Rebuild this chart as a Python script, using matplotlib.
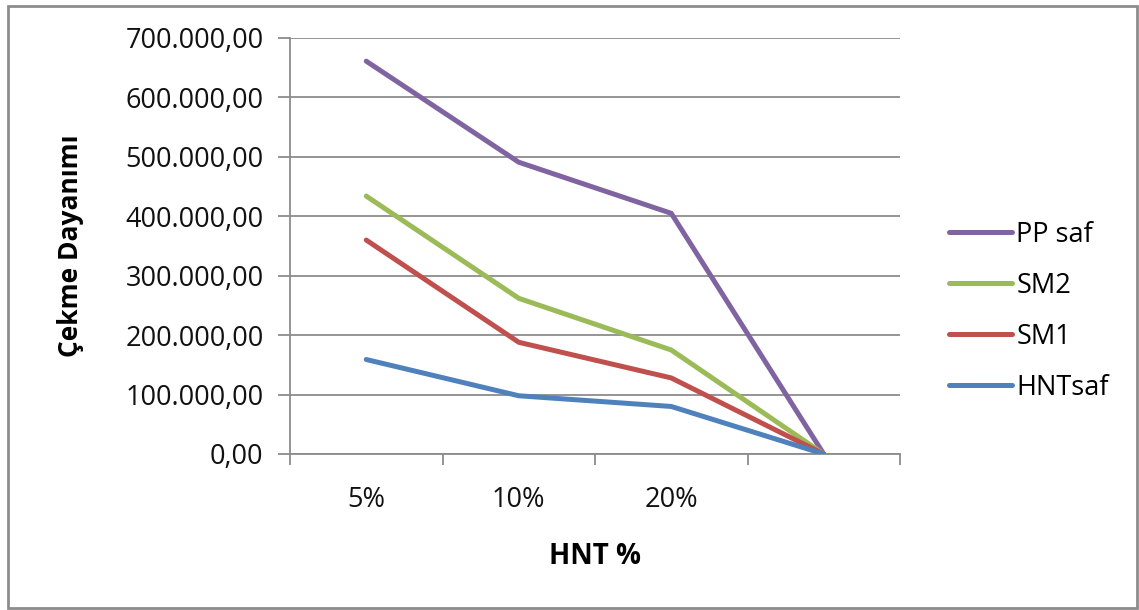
import numpy as np
import matplotlib
matplotlib.use("Agg")
import matplotlib.pyplot as plt
from matplotlib.patches import Rectangle
from matplotlib.ticker import FuncFormatter, FixedLocator

plt.rcParams['font.family'] = ['Open Sans', 'DejaVu Sans']

# HNT loading categories (last slot has no label)
categories = ["5%", "10%", "20%", ""]

# tensile strength per sample series
pp_saf  = [661000, 491000, 405000, 0]
sm2     = [434000, 262000, 175000, 0]
sm1     = [360000, 188000, 128000, 0]
hnt_saf = [159000,  98000,  80000, 0]

series_names  = ["PP saf", "SM2", "SM1", "HNTsaf"]
series_colors = ["#8064A2", "#9BBB59", "#C0504D", "#4F81BD"]

grid_col = "#8c8c8c"

def tr_format(v, pos):
    # turkish style: dot thousands separator, comma decimal
    s = "{:,.2f}".format(v)
    return s.replace(",", "X").replace(".", ",").replace("X", ".")

fig = plt.figure(figsize=(11.39, 6.10), dpi=100)
ax = fig.add_axes([290/1139, 156/610, 610/1139, 416/610])

x = np.arange(len(categories))
for name, vals, col in zip(series_names, [pp_saf, sm2, sm1, hnt_saf], series_colors):
    ax.plot(x, vals, color=col, lw=3.6, solid_capstyle='round',
            solid_joinstyle='miter', label=name, zorder=3)

ax.set_xlim(-0.5, len(categories) - 0.5)
ax.set_ylim(0, 700000)
ax.set_yticks(np.arange(0, 700001, 100000))
ax.yaxis.set_major_formatter(FuncFormatter(tr_format))
ax.grid(axis='y', color=grid_col, lw=1.3, zorder=0)

ax.set_xticks(x)
ax.set_xticklabels(categories)
ax.xaxis.set_minor_locator(FixedLocator(np.arange(-0.5, len(categories), 1.0)))
ax.tick_params(axis='x', which='major', length=0, pad=23, labelsize=19.5, colors='#111111')
ax.tick_params(axis='x', which='minor', length=8, width=1.3, color=grid_col)
ax.tick_params(axis='y', length=9, width=1.3, color=grid_col, pad=10,
               labelsize=19.5, labelcolor='#111111')

for side in ['top', 'right']:
    ax.spines[side].set_visible(False)
for side in ['left', 'bottom']:
    ax.spines[side].set_color(grid_col)
    ax.spines[side].set_linewidth(1.3)

ax.set_xlabel("HNT %", fontsize=20, fontweight='bold', labelpad=20)
ax.set_ylabel("Çekme Dayanımı", fontsize=19, fontweight='bold', labelpad=30)

leg = ax.legend(loc='center left', bbox_to_anchor=(1.04, 0.343), frameon=False,
                fontsize=19.5, handlelength=2.35, handletextpad=0.15,
                labelspacing=0.85)

# chart frame
fig.patches.append(Rectangle((8/1139, 2/610), 1129/1139, 602/610,
                             transform=fig.transFigure, fill=False,
                             edgecolor='#8c8c8c', lw=2))

fig.savefig("out.png", dpi=100)
